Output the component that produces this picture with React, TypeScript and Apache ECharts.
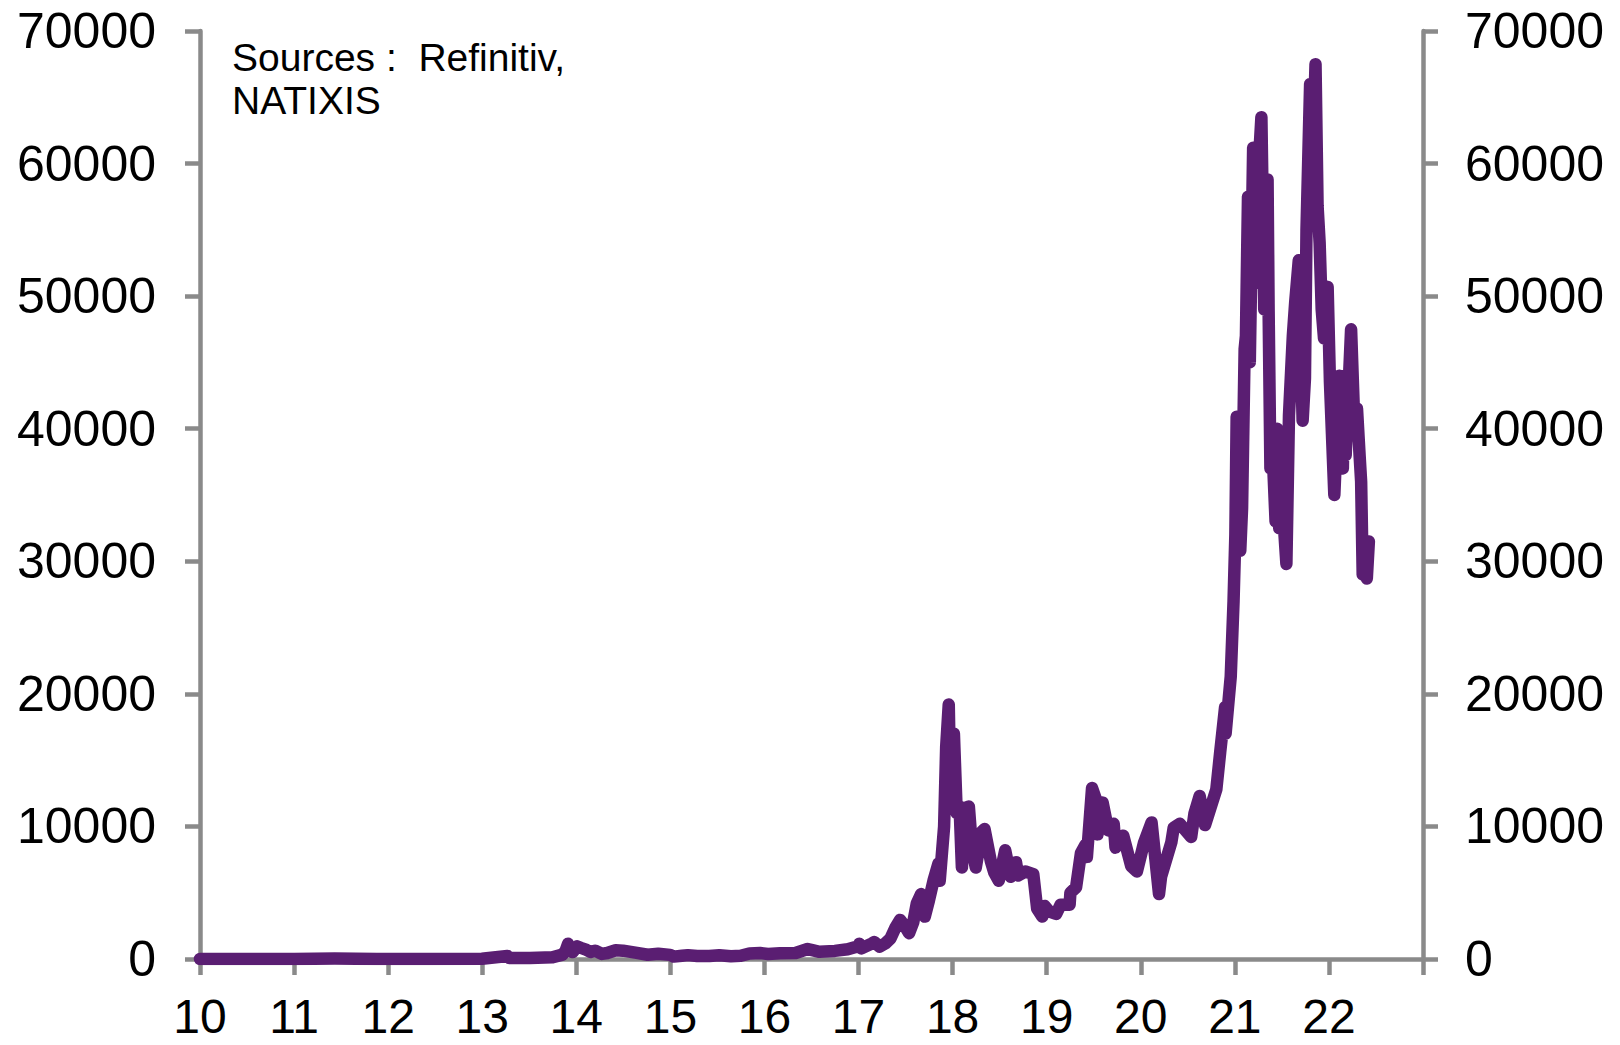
import React, { useEffect, useRef } from "react";
import * as echarts from "echarts";

const dates: string[] = [
  "2010-01-01","2010-07-18","2011-01-01","2011-06-08","2011-11-18","2012-06-01","2012-12-31",
  "2013-04-09","2013-04-16","2013-07-05","2013-10-01","2013-11-08","2013-11-20","2013-11-30",
  "2013-12-07","2013-12-18","2014-01-05","2014-01-20","2014-02-10","2014-02-25","2014-03-15",
  "2014-04-10","2014-05-01","2014-06-03","2014-07-01","2014-08-18","2014-10-05","2014-11-15",
  "2014-12-31","2015-01-14","2015-02-15","2015-03-10","2015-04-15","2015-06-01","2015-07-10",
  "2015-08-24","2015-10-01","2015-11-04","2015-12-15","2016-01-15","2016-03-01","2016-05-01",
  "2016-06-17","2016-07-05","2016-08-02","2016-10-01","2016-11-20","2016-12-31","2017-01-04",
  "2017-01-12","2017-02-23","2017-03-03","2017-03-24","2017-04-15","2017-05-05","2017-05-25",
  "2017-06-11","2017-07-01","2017-07-16","2017-08-01","2017-08-15","2017-09-01","2017-09-15",
  "2017-10-01","2017-10-20","2017-11-07","2017-11-12","2017-11-29","2017-12-07","2017-12-17",
  "2017-12-22","2018-01-06","2018-01-17","2018-01-28","2018-02-06","2018-02-20","2018-03-05",
  "2018-03-18","2018-04-01","2018-04-24","2018-05-05","2018-05-29","2018-06-12","2018-06-29",
  "2018-07-24","2018-08-14","2018-09-04","2018-09-12","2018-10-10","2018-11-10","2018-11-25",
  "2018-12-15","2018-12-24","2019-01-10","2019-02-07","2019-02-24","2019-03-31","2019-04-03",
  "2019-04-25","2019-05-14","2019-05-31","2019-06-06","2019-06-26","2019-07-10","2019-07-17",
  "2019-08-06","2019-08-28","2019-09-18","2019-09-25","2019-10-25","2019-11-25","2019-12-17",
  "2020-01-14","2020-02-12","2020-03-12","2020-03-20","2020-04-29","2020-05-08","2020-06-01",
  "2020-07-15","2020-07-28","2020-08-17","2020-09-07","2020-10-21","2020-11-05","2020-11-24",
  "2020-11-26","2020-12-16","2020-12-27","2021-01-03","2021-01-08","2021-01-14","2021-01-22",
  "2021-01-29","2021-02-08","2021-02-13","2021-02-21","2021-02-28","2021-03-13","2021-03-25",
  "2021-04-01","2021-04-14","2021-04-25","2021-05-08","2021-05-12","2021-05-19","2021-05-26",
  "2021-06-08","2021-06-14","2021-06-22","2021-07-06","2021-07-20","2021-07-30","2021-08-14",
  "2021-08-23","2021-09-06","2021-09-21","2021-09-30","2021-10-06","2021-10-20","2021-10-27",
  "2021-11-10","2021-11-18","2021-11-26","2021-12-04","2021-12-13","2021-12-27","2022-01-05",
  "2022-01-22","2022-02-10","2022-02-24","2022-03-02","2022-03-07","2022-03-28","2022-04-11",
  "2022-04-20","2022-04-30","2022-05-06","2022-05-12","2022-05-22","2022-05-28","2022-06-05"
];

const prices: number[] = [
  0.1,0.09,0.3,30,2,5,13,
  230,70,70,125,330,600,1150,
  800,520,950,830,680,530,630,
  380,450,660,630,480,320,400,
  310,180,240,290,220,225,290,
  210,240,420,450,380,430,450,
  750,670,540,610,730,960,1150,
  800,1180,1280,930,1180,1550,2400,
  2950,2450,1950,2750,4200,4900,3200,
  4400,6000,7200,5900,10000,16000,19200,
  13800,17000,11000,11500,6900,11400,11500,
  8200,6900,9600,9800,7400,6500,5900,
  8200,6200,7300,6300,6600,6400,3800,
  3200,4000,3600,3400,4100,4100,5000,
  5400,8000,8600,7700,12900,12100,9400,
  11800,9700,10200,8400,9300,7000,6600,
  8800,10300,4900,6200,8800,9900,10200,
  9200,11000,12300,10100,12800,15600,19000,
  17000,21300,27000,32000,40900,39000,30800,
  34000,46000,47000,57500,45000,61200,51000,
  59000,63500,49000,58800,49000,37000,39000,
  33000,40000,32500,34000,29800,41000,47000,
  49500,52700,40600,43800,55000,66000,58500,
  67500,56800,54000,49000,46800,50700,43500,
  35000,44000,37000,44000,38000,47500,39500,
  41500,38000,36000,29000,30300,28700,31500
];

const yearTicks: number[] = [2010, 2011, 2012, 2013, 2014, 2015, 2016, 2017, 2018, 2019, 2020, 2021, 2022];
const sourceLines: string[] = ["Sources :  Refinitiv,", "NATIXIS"];

function toDecimalYear(s: string): number {
  const [y, m, d] = s.split("-").map(Number);
  const start = Date.UTC(y, 0, 1);
  const end = Date.UTC(y + 1, 0, 1);
  const t = Date.UTC(y, m - 1, d);
  return y + (t - start) / (end - start);
}

const FONT = "'Liberation Sans', Arial, sans-serif";
const AXIS_COLOR = "#8a8a8a";
const LINE_COLOR = "#5a1e72";

export default function App() {
  const ref = useRef<HTMLDivElement>(null);
  useEffect(() => {
    if (!ref.current) return;
    const chart = echarts.init(ref.current, undefined, { renderer: "svg" });
    const data = dates.map((d, i) => [toDecimalYear(d), prices[i]]);
    const yAxisCommon = {
      type: "value",
      min: 0,
      max: 70000,
      interval: 10000,
      splitLine: { show: false },
      axisLine: { show: true, lineStyle: { color: AXIS_COLOR, width: 4.5 } },
      axisTick: { show: true, inside: false, length: 15, lineStyle: { color: AXIS_COLOR, width: 4.5 } },
    };
    chart.setOption({
      animation: false,
      backgroundColor: "#fff",
      grid: { left: 200, right: 197, top: 31, bottom: 86, outerBoundsMode: "none", containLabel: false },
      xAxis: {
        type: "value",
        min: 2010,
        max: 2023,
        interval: 1,
        splitLine: { show: false },
        axisLine: { show: true, onZero: false, lineStyle: { color: AXIS_COLOR, width: 4.5 } },
        axisTick: { show: true, inside: false, length: 16, lineStyle: { color: AXIS_COLOR, width: 4.5 } },
        axisLabel: {
          color: "#000",
          fontSize: 48,
          fontFamily: FONT,
          margin: 33,
          showMaxLabel: true,
          formatter: (v: number) => (yearTicks.includes(v) ? String(v - 2000) : ""),
        },
      },
      yAxis: [
        {
          ...yAxisCommon,
          position: "left",
          axisLabel: { color: "#000", fontSize: 50, fontFamily: FONT, margin: 44, formatter: (v: number) => String(v) },
        },
        {
          ...yAxisCommon,
          position: "right",
          axisLabel: { color: "#000", fontSize: 50, fontFamily: FONT, margin: 42, formatter: (v: number) => String(v) },
        },
      ],
      graphic: [
        {
          type: "text",
          left: 232,
          top: 36,
          style: {
            text: sourceLines.join("\n"),
            fontSize: 39,
            fontFamily: FONT,
            lineHeight: 43,
            fill: "#000",
          },
        },
      ],
      series: [
        {
          type: "line",
          data,
          yAxisIndex: 0,
          showSymbol: false,
          symbol: "none",
          lineStyle: { color: LINE_COLOR, width: 12.5, join: "round", cap: "round" },
          z: 1,
        },
      ],
    });
    return () => chart.dispose();
  }, []);
  return (
    <div
      ref={ref}
      style={{ position: "fixed", left: 0, top: 0, width: 1620, height: 1045, background: "#fff" }}
    />
  );
}
